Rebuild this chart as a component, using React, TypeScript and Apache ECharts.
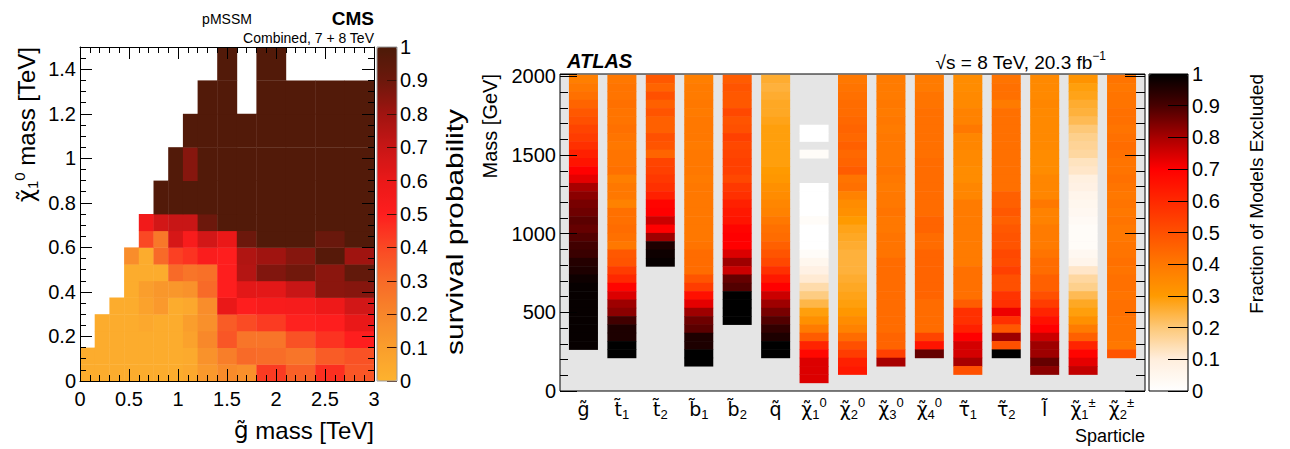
import React, { useEffect, useRef } from 'react';
import * as echarts from 'echarts';

const FONT = 'Liberation Sans, Arial, Helvetica, sans-serif';
const SYMFONT = 'DejaVu Sans, Liberation Sans, sans-serif';

// ---------------- CMS panel data ----------------
const gluinoEdges = [0, 0.15, 0.3, 0.45, 0.6, 0.75, 0.9, 1.05, 1.2, 1.4, 1.6, 1.8, 2.1, 2.4, 2.7, 3.0];
const lspEdges = [0, 0.075, 0.15, 0.225, 0.3, 0.375, 0.45, 0.525, 0.6, 0.675, 0.75, 0.9, 1.05, 1.2, 1.35, 1.5];
const N = null;
// rows from bottom (LSP 0-0.075) to top (1.35-1.5); columns follow gluinoEdges
const survivalRows = [
  [0.03, 0.03, 0.03, 0.03, 0.03, 0.03, 0.03, 0.05, 0.12, 0.18, 0.16, 0.43, 0.33, 0.46, 0.36],
  [0.03, 0.03, 0.03, 0.03, 0.03, 0.03, 0.03, 0.04, 0.15, 0.23, 0.30, 0.29, 0.26, 0.34, 0.37],
  [N, 0.03, 0.03, 0.03, 0.03, 0.03, 0.03, 0.08, 0.19, 0.36, 0.26, 0.26, 0.37, 0.45, 0.50],
  [N, 0.03, 0.03, 0.03, 0.05, 0.03, 0.03, 0.10, 0.16, 0.34, 0.39, 0.43, 0.49, 0.50, 0.60],
  [N, N, 0.03, 0.03, 0.08, 0.12, 0.03, 0.05, 0.17, 0.60, 0.50, 0.53, 0.54, 0.58, 0.67],
  [N, N, N, 0.03, 0.10, 0.13, 0.13, 0.15, 0.30, 0.50, 0.62, 0.62, 0.70, 0.84, 0.85],
  [N, N, N, 0.03, 0.03, 0.03, 0.30, 0.26, 0.28, 0.50, 0.75, 0.86, 0.89, 0.84, 0.93],
  [N, N, N, 0.17, 0.03, 0.30, 0.42, 0.45, 0.52, 0.50, 0.76, 0.80, 0.85, 0.97, 0.80],
  [N, N, N, N, 0.40, 0.25, 0.66, 0.53, 0.67, 0.60, 0.90, 0.98, 0.98, 0.91, 0.98],
  [N, N, N, N, 0.56, 0.67, 0.70, 0.70, 0.90, 0.98, 0.98, 0.98, 0.98, 0.98, 0.98],
  [N, N, N, N, N, 0.98, 0.98, 0.98, 0.98, 0.98, 0.98, 0.98, 0.98, 0.98, 0.98],
  [N, N, N, N, N, N, 0.98, 0.85, 0.98, 0.98, 0.98, 0.98, 0.98, 0.98, 0.98],
  [N, N, N, N, N, N, N, 0.98, 0.98, 0.98, 0.98, 0.98, 0.98, 0.98, 0.98],
  [N, N, N, N, N, N, N, N, 0.98, 0.98, N, 0.98, 0.98, 0.98, 0.98],
  [N, N, N, N, N, N, N, N, N, 0.98, N, 0.98, N, N, N],
];
const cmsColors = ['#fdb22e', '#fa9e2c', '#f8862a', '#f86a28', '#fa4824', '#fe1e1e', '#ea1818', '#c81616', '#a01410', '#6c180c', '#4c1a08'];

// ---------------- ATLAS panel data ----------------
const massTop = 2010;
const massBins = 38;
const sparticleSymbols = ['g̃', 't̃', 't̃', 'b̃', 'b̃', 'q̃', 'χ̃', 'χ̃', 'χ̃', 'χ̃', 'τ̃', 'τ̃', 'l̃', 'χ̃', 'χ̃'];
const sparticleSubs = ['', '1', '2', '1', '2', '', '1', '2', '3', '4', '1', '2', '', '1', '2'];
const sparticleSups = ['', '', '', '', '', '', '0', '0', '0', '0', '', '', '', '±', '±'];
// each list: fraction excluded per mass bin, from the top bin (2010 GeV) downwards
const gluino = [0.38, 0.40, 0.42, 0.45, 0.48, 0.50, 0.53, 0.55, 0.58, 0.62, 0.65, 0.70, 0.73, 0.80, 0.83, 0.85, 0.86, 0.88, 0.87, 0.89, 0.91, 0.92, 0.95, 0.96, 0.98, 0.99, 0.99, 0.99, 0.99, 0.99, 0.99, 0.99, 0.99];
const stop1 = [0.40, 0.41, 0.41, 0.42, 0.41, 0.41, 0.42, 0.41, 0.40, 0.41, 0.41, 0.42, 0.38, 0.40, 0.40, 0.37, 0.42, 0.42, 0.43, 0.42, 0.40, 0.48, 0.49, 0.55, 0.60, 0.69, 0.74, 0.81, 0.83, 0.91, 0.96, 0.96, 1.0, 1.0];
const stop2 = [0.48, 0.45, 0.50, 0.46, 0.49, 0.46, 0.46, 0.50, 0.49, 0.45, 0.53, 0.54, 0.56, 0.58, 0.62, 0.69, 0.70, 0.76, 0.70, 0.81, 0.96, 0.98, 0.99];
const sbottom1 = [0.38, 0.39, 0.39, 0.40, 0.39, 0.40, 0.40, 0.40, 0.39, 0.40, 0.40, 0.40, 0.39, 0.40, 0.40, 0.40, 0.40, 0.40, 0.40, 0.40, 0.41, 0.43, 0.43, 0.43, 0.49, 0.55, 0.66, 0.73, 0.81, 0.86, 0.88, 0.96, 0.96, 1.0, 1.0];
const sbottom2 = [0.47, 0.49, 0.48, 0.48, 0.52, 0.49, 0.50, 0.54, 0.52, 0.53, 0.54, 0.54, 0.52, 0.56, 0.58, 0.62, 0.64, 0.65, 0.69, 0.70, 0.70, 0.74, 0.81, 0.76, 0.87, 0.89, 1.0, 1.0, 1.0, 1.0];
const squark = [0.26, 0.25, 0.26, 0.27, 0.27, 0.28, 0.29, 0.29, 0.29, 0.29, 0.29, 0.30, 0.31, 0.33, 0.34, 0.36, 0.37, 0.40, 0.42, 0.43, 0.46, 0.49, 0.52, 0.58, 0.64, 0.70, 0.76, 0.81, 0.85, 0.89, 0.93, 0.96, 1.0, 1.0];
const neutralino1 = [N, N, N, N, N, N, 0, 0, N, 0.02, N, N, N, 0, 0, 0, 0, 0.02, 0, 0, 0, 0.02, 0.05, 0.08, 0.11, 0.15, 0.19, 0.24, 0.29, 0.33, 0.39, 0.47, 0.61, 0.68, 0.74, 0.74, 0.74];
const neutralino2 = [0.40, 0.41, 0.42, 0.43, 0.43, 0.44, 0.45, 0.44, 0.46, 0.44, 0.45, 0.47, 0.41, 0.42, 0.37, 0.34, 0.33, 0.30, 0.28, 0.27, 0.26, 0.25, 0.25, 0.25, 0.26, 0.27, 0.28, 0.29, 0.31, 0.34, 0.37, 0.43, 0.50, 0.55, 0.62, 0.64];
const neutralino3 = [0.39, 0.39, 0.39, 0.40, 0.39, 0.40, 0.39, 0.40, 0.40, 0.40, 0.40, 0.41, 0.40, 0.39, 0.40, 0.40, 0.41, 0.40, 0.40, 0.41, 0.41, 0.41, 0.43, 0.43, 0.43, 0.43, 0.43, 0.43, 0.43, 0.43, 0.43, 0.45, 0.45, 0.54, 0.80];
const neutralino4 = [0.39, 0.39, 0.41, 0.41, 0.42, 0.42, 0.42, 0.42, 0.42, 0.42, 0.43, 0.43, 0.43, 0.43, 0.43, 0.43, 0.43, 0.45, 0.45, 0.43, 0.43, 0.45, 0.45, 0.45, 0.45, 0.45, 0.45, 0.43, 0.43, 0.43, 0.43, 0.53, 0.65, 0.87];
const stau1 = [0.34, 0.34, 0.35, 0.35, 0.37, 0.37, 0.40, 0.36, 0.36, 0.35, 0.35, 0.34, 0.34, 0.36, 0.36, 0.39, 0.39, 0.39, 0.39, 0.39, 0.39, 0.39, 0.39, 0.42, 0.42, 0.42, 0.42, 0.47, 0.58, 0.58, 0.62, 0.70, 0.75, 0.75, 0.80, 0.50];
const stau2 = [0.41, 0.42, 0.42, 0.39, 0.42, 0.42, 0.42, 0.42, 0.42, 0.42, 0.42, 0.42, 0.42, 0.42, 0.46, 0.46, 0.48, 0.46, 0.48, 0.49, 0.49, 0.52, 0.51, 0.54, 0.50, 0.50, 0.57, 0.58, 0.72, 0.58, 0.48, 0.81, 0.50, 1.0];
const slepton = [0.35, 0.35, 0.35, 0.36, 0.35, 0.35, 0.35, 0.35, 0.35, 0.34, 0.34, 0.34, 0.36, 0.36, 0.36, 0.40, 0.37, 0.37, 0.39, 0.39, 0.39, 0.41, 0.43, 0.43, 0.46, 0.46, 0.50, 0.55, 0.61, 0.66, 0.70, 0.76, 0.81, 0.81, 0.87, 0.83];
const chargino1 = [0.32, 0.29, 0.28, 0.26, 0.25, 0.23, 0.20, 0.18, 0.17, 0.16, 0.13, 0.12, 0.09, 0.08, 0.06, 0.05, 0.04, 0.03, 0.02, 0.02, 0.02, 0.04, 0.06, 0.12, 0.16, 0.18, 0.23, 0.27, 0.29, 0.33, 0.39, 0.46, 0.61, 0.69, 0.73, 0.77];
const chargino2 = [0.41, 0.40, 0.41, 0.41, 0.42, 0.42, 0.41, 0.42, 0.43, 0.42, 0.41, 0.41, 0.42, 0.41, 0.40, 0.41, 0.40, 0.41, 0.40, 0.40, 0.41, 0.41, 0.42, 0.41, 0.42, 0.42, 0.41, 0.42, 0.42, 0.41, 0.41, 0.41, 0.40, 0.49];
const atlasColumns = [gluino, stop1, stop2, sbottom1, sbottom2, squark, neutralino1, neutralino2, neutralino3, neutralino4, stau1, stau2, slepton, chargino1, chargino2];
const atlasColors = ['#ffffff', '#ffeedd', '#fdc878', '#ff9a00', '#ff7800', '#ff5000', '#ff2800', '#ff0000', '#a80000', '#480000', '#000000'];

// ---------------- build series data ----------------
const cmsData: number[][] = [];
survivalRows.forEach((row, r) =>
  row.forEach((v, c) => {
    if (v !== null) cmsData.push([gluinoEdges[c], gluinoEdges[c + 1], lspEdges[r], lspEdges[r + 1], v as number]);
  })
);
const binW = massTop / massBins;
const atlasData: number[][] = [];
atlasColumns.forEach((col, k) =>
  col.forEach((v, i) => {
    if (v !== null) atlasData.push([k, massTop - (i + 1) * binW, massTop - i * binW, v as number]);
  })
);

const isMult = (v: number, step: number) => Math.abs(v / step - Math.round(v / step)) < 1e-6;
const fmtNum = (v: number) => String(parseFloat(v.toFixed(3)));

const labelStyle = (size: number, extra: any = {}) => ({ fontSize: size, fontFamily: FONT, color: '#000', ...extra });

function tickAxis(o: any) {
  return {
    type: 'value',
    gridIndex: o.grid,
    position: o.position,
    min: o.min,
    max: o.max,
    interval: o.interval,
    z: 20,
    axisLine: { show: !!o.line, onZero: false, lineStyle: { color: '#000', width: 1 } },
    axisTick: { show: true, inside: true, length: o.len, lineStyle: { color: o.tickColor || '#000', width: 1 } },
    minorTick: o.minor ? { show: true, splitNumber: o.minor, length: o.minorLen, lineStyle: { color: '#000', width: 1 } } : { show: false },
    axisLabel: o.labels
      ? { show: true, margin: o.margin, ...labelStyle(o.fontSize || 20), formatter: (v: number) => (isMult(v, o.labelStep || o.interval) ? fmtNum(v) : '') }
      : { show: false },
    splitLine: { show: false },
  };
}

const subRich = {
  m: { fontSize: 19, fontFamily: SYMFONT, color: '#000', lineHeight: 25 },
  sub: { fontSize: 13, fontFamily: FONT, color: '#000', verticalAlign: 'bottom', lineHeight: 12 },
  sup: { fontSize: 13, fontFamily: FONT, color: '#000', verticalAlign: 'top', lineHeight: 12 },
};

const option: any = {
  animation: false,
  backgroundColor: '#ffffff',
  grid: [
    { left: 80, top: 47, width: 294, height: 334, show: false },
    { left: 377, top: 47, width: 20, height: 334, show: false },
    { left: 560, top: 74, width: 585, height: 317, show: true, backgroundColor: '#e5e5e5', borderColor: '#000', borderWidth: 1 },
    { left: 564.3, top: 74, width: 576.4, height: 317, show: false },
    { left: 1149, top: 74, width: 39, height: 317, show: false },
  ],
  xAxis: [
    { ...tickAxis({ grid: 0, position: 'bottom', min: 0, max: 3, interval: 0.5, len: 12, minor: 5, minorLen: 6, labels: true, margin: 8, line: true }) },
    { ...tickAxis({ grid: 0, position: 'top', min: 0, max: 3, interval: 0.5, len: 12, minor: 5, minorLen: 6, labels: false, line: true }) },
    { type: 'value', gridIndex: 1, min: 0, max: 1, show: false },
    { type: 'value', gridIndex: 2, min: -0.61, max: 14.61, show: false },
    {
      type: 'category',
      gridIndex: 3,
      position: 'bottom',
      data: sparticleSymbols,
      boundaryGap: true,
      axisLine: { show: false },
      axisTick: { show: false },
      splitLine: { show: false },
      axisLabel: {
        show: true,
        interval: 0,
        margin: 5,
        formatter: (_v: string, i: number) =>
          `{m|${sparticleSymbols[i]}}` + (sparticleSubs[i] ? `{sub|${sparticleSubs[i]}}` : '') + (sparticleSups[i] ? `{sup|${sparticleSups[i]}}` : ''),
        rich: subRich,
      },
    },
    { type: 'value', gridIndex: 4, min: 0, max: 1, show: false },
  ],
  yAxis: [
    tickAxis({ grid: 0, position: 'left', min: 0, max: 1.5, interval: 0.2, len: 12, labels: true, margin: 4, line: true }),
    tickAxis({ grid: 0, position: 'left', min: 0, max: 1.5, interval: 0.05, len: 6, labels: false }),
    tickAxis({ grid: 0, position: 'right', min: 0, max: 1.5, interval: 0.2, len: 12, labels: false, line: true }),
    tickAxis({ grid: 0, position: 'right', min: 0, max: 1.5, interval: 0.05, len: 6, labels: false }),
    tickAxis({ grid: 1, position: 'right', min: 0, max: 1, interval: 0.1, len: 10, labels: true, margin: 3, tickColor: '#3a1006' }),
    tickAxis({ grid: 2, position: 'left', min: 0, max: 2015, interval: 500, len: 17, labels: true, margin: 4 }),
    tickAxis({ grid: 2, position: 'left', min: 0, max: 2015, interval: 100, len: 8, labels: false }),
    tickAxis({ grid: 2, position: 'right', min: 0, max: 2015, interval: 500, len: 20, labels: false }),
    tickAxis({ grid: 2, position: 'right', min: 0, max: 2015, interval: 100, len: 9, labels: false }),
    { type: 'value', gridIndex: 3, min: 0, max: 1, show: false },
    tickAxis({ grid: 4, position: 'right', min: 0, max: 1, interval: 0.1, len: 20, labels: true, margin: 4 }),
  ],
  visualMap: [
    {
      type: 'continuous', seriesIndex: 0, dimension: 4, min: 0, max: 1, left: 377, top: 47, itemWidth: 20, itemHeight: 334,
      padding: 0, calculable: false, hoverLink: false, orient: 'vertical', inRange: { color: cmsColors }, z: 4,
    },
    {
      type: 'continuous', seriesIndex: 1, dimension: 3, min: 0, max: 1, left: 1149, top: 74, itemWidth: 39, itemHeight: 317,
      padding: 0, calculable: false, hoverLink: false, orient: 'vertical', inRange: { color: atlasColors }, z: 4,
    },
  ],
  series: [
    {
      type: 'custom',
      xAxisIndex: 0,
      yAxisIndex: 0,
      data: cmsData,
      encode: { x: [0, 1], y: [2, 3] },
      clip: true,
      renderItem: (_p: any, api: any) => {
        const a = api.coord([api.value(0), api.value(3)]);
        const b = api.coord([api.value(1), api.value(2)]);
        return {
          type: 'rect',
          shape: { x: a[0], y: a[1], width: b[0] - a[0] + 0.4, height: b[1] - a[1] + 0.4 },
          style: { fill: api.visual('color') },
        };
      },
    },
    {
      type: 'custom',
      xAxisIndex: 3,
      yAxisIndex: 5,
      data: atlasData,
      encode: { x: 0, y: [1, 2] },
      clip: true,
      renderItem: (_p: any, api: any) => {
        const top = api.coord([api.value(0), api.value(2)]);
        const bot = api.coord([api.value(0), api.value(1)]);
        const w = api.size([0.755, 0])[0];
        return {
          type: 'rect',
          shape: { x: top[0] - w / 2, y: top[1], width: w, height: bot[1] - top[1] + 0.5 },
          style: { fill: api.visual('color') },
        };
      },
    },
  ],
  graphic: [
    { type: 'rect', z: 100, shape: { x: 377, y: 47, width: 20, height: 334 }, style: { fill: 'none', stroke: '#9a9a9a', lineWidth: 1 } },
    { type: 'rect', z: 100, shape: { x: 1149, y: 74, width: 39, height: 317 }, style: { fill: 'none', stroke: '#000', lineWidth: 1 } },
    { type: 'text', z: 100, x: 227, y: 19, style: { text: 'pMSSM', fontSize: 14, fontFamily: FONT, fill: '#000', align: 'center', verticalAlign: 'middle' } },
    { type: 'text', z: 100, x: 374, y: 18, style: { text: 'CMS', fontSize: 19, fontWeight: 'bold', fontFamily: FONT, fill: '#000', align: 'right', verticalAlign: 'middle' } },
    { type: 'text', z: 100, x: 374, y: 38, style: { text: 'Combined, 7 + 8 TeV', fontSize: 14, fontFamily: FONT, fill: '#000', align: 'right', verticalAlign: 'middle' } },
    {
      type: 'text', z: 100, x: 374, y: 430,
      style: {
        text: '{g|g̃}{m| mass [TeV]}', align: 'right', verticalAlign: 'middle', fill: '#000',
        rich: {
          g: { fontSize: 23, fontFamily: SYMFONT, fill: '#000', lineHeight: 30 },
          m: { fontSize: 24, fontFamily: FONT, fill: '#000', lineHeight: 30 },
        },
      },
    },
    {
      type: 'text', z: 100, x: 26, y: 47, rotation: Math.PI / 2,
      style: {
        text: '{g|χ̃}{sub|1}{sup|0}{m| mass [TeV]}', align: 'right', verticalAlign: 'middle', fontFamily: FONT, fill: '#000',
        rich: {
          g: { fontSize: 23, fontFamily: SYMFONT, fill: '#000', lineHeight: 28 },
          m: { fontSize: 24, fontFamily: FONT, fill: '#000', lineHeight: 28 },
          sub: { fontSize: 15, fontFamily: FONT, fill: '#000', verticalAlign: 'bottom', lineHeight: 14 },
          sup: { fontSize: 15, fontFamily: FONT, fill: '#000', verticalAlign: 'top', lineHeight: 14 },
        },
      },
    },
    {
      type: 'text', z: 100, x: 455, y: 232, rotation: Math.PI / 2, scaleX: 1.3,
      style: { text: 'survival probability', fontSize: 23, fontFamily: FONT, fill: '#000', align: 'center', verticalAlign: 'middle' },
    },
    { type: 'text', z: 100, x: 567, y: 61, style: { text: 'ATLAS', fontSize: 20, fontWeight: 'bold', fontStyle: 'italic', fontFamily: FONT, fill: '#000', align: 'left', verticalAlign: 'middle' } },
    {
      type: 'text', z: 100, x: 1106, y: 62,
      style: {
        text: '{a|√s = 8 TeV, 20.3 fb}{sup|−1}', align: 'right', verticalAlign: 'middle', fontFamily: FONT, fill: '#000',
        rich: {
          a: { fontSize: 19, fontFamily: FONT, fill: '#000', lineHeight: 24 },
          sup: { fontSize: 12, fontFamily: FONT, fill: '#000', verticalAlign: 'top', lineHeight: 12 },
        },
      },
    },
    { type: 'text', z: 100, x: 490, y: 74, rotation: Math.PI / 2, style: { text: 'Mass [GeV]', fontSize: 20, fontFamily: FONT, fill: '#000', align: 'right', verticalAlign: 'middle' } },
    { type: 'text', z: 100, x: 1145, y: 436, style: { text: 'Sparticle', fontSize: 18, fontFamily: FONT, fill: '#000', align: 'right', verticalAlign: 'middle' } },
    { type: 'text', z: 100, x: 1256, y: 74, rotation: Math.PI / 2, style: { text: 'Fraction of Models Excluded', fontSize: 19, fontFamily: FONT, fill: '#000', align: 'right', verticalAlign: 'middle' } },
  ],
};

export default function App() {
  const ref = useRef<HTMLDivElement>(null);
  useEffect(() => {
    const chart = echarts.init(ref.current as HTMLDivElement, null, { renderer: 'svg' });
    chart.setOption(option);
    return () => chart.dispose();
  }, []);
  return <div ref={ref} style={{ position: 'fixed', left: 0, top: 0, width: 1290, height: 449, background: '#fff' }} />;
}
